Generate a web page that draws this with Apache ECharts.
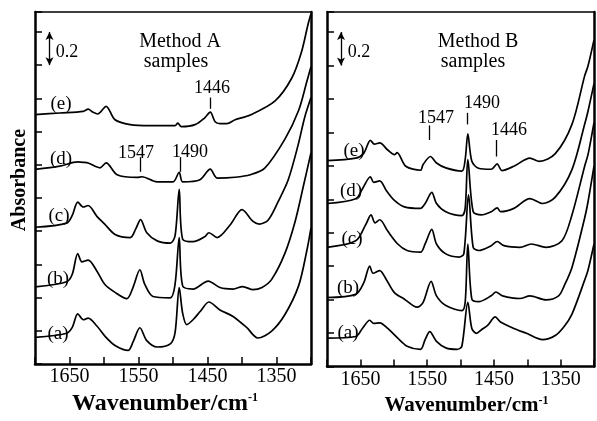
<!DOCTYPE html>
<html><head><meta charset="utf-8">
<script src="https://cdn.jsdelivr.net/npm/echarts@6/dist/echarts.min.js"></script>
<style>html,body{margin:0;padding:0;background:#fff}#c{width:597px;height:421px}</style>
</head><body><div id="c"></div>
<script>
// ---- data (wavenumber cm-1, absorbance offset) ----
const xTickLabels = [1650, 1550, 1450, 1350];
const curveNames = ['(a)', '(b)', '(c)', '(d)', '(e)'];
const peakLabels = [1547, 1490, 1446];
const scaleBar = 0.2;

const methodA_a = [[1700,0.161],[1654,0.186],[1646,0.221],[1638,0.302],[1630,0.267],[1623,0.277],[1610,0.228],[1599,0.170],[1584,0.112],[1565,0.083],[1558,0.132],[1548,0.219],[1538,0.141],[1523,0.103],[1504,0.122],[1497,0.190],[1491,0.461],[1486,0.306],[1480,0.238],[1471,0.267],[1460,0.320],[1448,0.374],[1432,0.326],[1413,0.287],[1393,0.219],[1377,0.157],[1357,0.199],[1338,0.297],[1318,0.471],[1306,0.684],[1300,0.820]];
const methodA_b = [[1700,0.465],[1654,0.496],[1646,0.541],[1638,0.665],[1632,0.616],[1623,0.626],[1610,0.558],[1599,0.481],[1584,0.432],[1567,0.394],[1558,0.461],[1548,0.568],[1541,0.481],[1529,0.407],[1504,0.399],[1497,0.481],[1491,0.762],[1486,0.471],[1471,0.452],[1449,0.500],[1432,0.461],[1413,0.452],[1399,0.467],[1384,0.448],[1371,0.461],[1357,0.510],[1338,0.665],[1323,0.859],[1311,1.072],[1300,1.273]];
const methodA_c = [[1700,0.824],[1654,0.849],[1646,0.895],[1638,0.975],[1630,0.946],[1623,0.955],[1610,0.888],[1599,0.843],[1584,0.781],[1562,0.762],[1554,0.814],[1547,0.870],[1538,0.791],[1523,0.742],[1504,0.728],[1497,0.773],[1491,1.052],[1486,0.752],[1471,0.737],[1454,0.767],[1448,0.791],[1436,0.762],[1417,0.839],[1400,0.930],[1384,0.859],[1375,0.843],[1362,0.868],[1348,0.975],[1333,1.110],[1319,1.314],[1309,1.488],[1300,1.605]];
const methodA_d = [[1700,1.173],[1664,1.192],[1638,1.217],[1630,1.215],[1623,1.211],[1606,1.182],[1597,1.211],[1581,1.140],[1552,1.124],[1545,1.128],[1523,1.097],[1500,1.097],[1491,1.155],[1486,1.097],[1461,1.110],[1446,1.174],[1436,1.120],[1410,1.125],[1388,1.140],[1367,1.180],[1338,1.353],[1318,1.527],[1306,1.702],[1300,1.791]];
const methodA_e = [[1700,1.502],[1664,1.512],[1630,1.522],[1623,1.535],[1616,1.517],[1609,1.506],[1597,1.552],[1584,1.471],[1562,1.442],[1533,1.436],[1497,1.436],[1493,1.451],[1488,1.430],[1468,1.442],[1454,1.483],[1446,1.517],[1439,1.459],[1432,1.448],[1422,1.448],[1410,1.471],[1388,1.500],[1352,1.585],[1328,1.721],[1314,1.876],[1304,2.051],[1300,2.110]];

const methodB_a = [[1700,0.170],[1657,0.180],[1647,0.228],[1636,0.277],[1630,0.258],[1621,0.262],[1609,0.228],[1594,0.170],[1580,0.122],[1560,0.103],[1553,0.161],[1546,0.209],[1536,0.151],[1522,0.112],[1505,0.103],[1498,0.122],[1489,0.384],[1483,0.228],[1476,0.199],[1469,0.219],[1459,0.248],[1448,0.297],[1440,0.267],[1420,0.228],[1401,0.199],[1377,0.161],[1358,0.186],[1345,0.238],[1333,0.314],[1314,0.517],[1309,0.576],[1300,0.733]];
const methodB_b = [[1700,0.413],[1657,0.432],[1645,0.500],[1636,0.601],[1631,0.558],[1621,0.574],[1611,0.519],[1599,0.442],[1584,0.403],[1565,0.355],[1556,0.384],[1544,0.510],[1536,0.423],[1522,0.365],[1498,0.335],[1493,0.384],[1489,0.733],[1483,0.403],[1473,0.388],[1454,0.423],[1447,0.446],[1437,0.423],[1411,0.407],[1396,0.423],[1372,0.399],[1353,0.423],[1345,0.480],[1333,0.593],[1314,0.888],[1309,0.984],[1300,1.198]];
const methodB_c = [[1700,0.713],[1657,0.752],[1642,0.849],[1634,0.907],[1628,0.859],[1621,0.878],[1609,0.810],[1594,0.733],[1580,0.694],[1560,0.684],[1553,0.733],[1543,0.820],[1536,0.733],[1522,0.674],[1502,0.655],[1495,0.674],[1488,1.027],[1481,0.713],[1473,0.694],[1454,0.723],[1445,0.748],[1435,0.723],[1411,0.713],[1394,0.733],[1372,0.713],[1348,0.752],[1333,0.907],[1314,1.198],[1309,1.267],[1300,1.459]];
const methodB_d = [[1700,0.975],[1657,1.004],[1647,1.062],[1635,1.135],[1630,1.101],[1621,1.110],[1611,1.052],[1599,0.994],[1584,0.955],[1560,0.946],[1553,0.975],[1543,1.042],[1536,0.975],[1522,0.926],[1498,0.903],[1493,0.946],[1489,1.238],[1481,0.926],[1469,0.907],[1454,0.926],[1445,0.949],[1440,0.926],[1420,0.946],[1396,1.004],[1377,0.975],[1358,1.013],[1333,1.178],[1314,1.449],[1309,1.527],[1300,1.692]];
const methodB_e = [[1700,1.231],[1657,1.246],[1645,1.275],[1635,1.353],[1629,1.330],[1621,1.337],[1609,1.295],[1599,1.267],[1595,1.279],[1582,1.198],[1560,1.174],[1556,1.208],[1545,1.256],[1536,1.217],[1522,1.188],[1498,1.169],[1493,1.238],[1489,1.391],[1483,1.227],[1473,1.186],[1454,1.180],[1445,1.212],[1438,1.172],[1420,1.198],[1396,1.246],[1382,1.227],[1358,1.273],[1333,1.448],[1314,1.738],[1309,1.797],[1300,1.953]];

// peak marker line spans [wavenumber, from, to]
const peakTicksA = [[1547,1.158,1.246],[1490,1.158,1.246],[1446,1.537,1.605]];
const peakTicksB = [[1547,1.355,1.442],[1490,1.448,1.517],[1446,1.256,1.355]];

// ---- chart ----
const FONT = 'Liberation Serif';
const chart = echarts.init(document.getElementById('c'), null, {renderer: 'canvas'});
const grids = [
  {left: 35, top: 12, width: 276, height: 364},
  {left: 327, top: 12, width: 276, height: 364}
];
const titleSize = [24, 21];
const titlePad = [[0, 16, 0, 0], [0, 0, 0, 12]];
const xAxes = [], yAxes = [];
[0, 1].forEach(g => {
  xAxes.push({
    type: 'value', gridIndex: g, min: 1300, max: 1700, interval: 50, inverse: true,
    axisLine: {onZero: false, lineStyle: {color: '#000', width: 2.5}},
    axisTick: {inside: true, length: 7, lineStyle: {color: '#000', width: 1.5}},
    axisLabel: {formatter: v => xTickLabels.includes(v) ? String(v) : '', color: '#000', fontFamily: FONT, fontSize: 20, margin: 3},
    splitLine: {show: false},
    name: 'Wavenumber/cm{sup|-1}', nameLocation: 'middle', nameGap: 22,
    nameTextStyle: {color: '#000', fontFamily: FONT, fontSize: titleSize[g], fontWeight: 'bold',
      padding: titlePad[g],
      rich: {sup: {fontFamily: FONT, fontSize: 12, fontWeight: 'bold', color: '#000', verticalAlign: 'top', padding: [0, 0, 10, 0]}}}
  });
  xAxes.push({
    type: 'value', gridIndex: g, position: 'top', min: 1300, max: 1700, inverse: true,
    axisLine: {onZero: false, lineStyle: {color: '#000', width: 1.5}},
    axisTick: {show: false}, axisLabel: {show: false}, splitLine: {show: false}
  });
  yAxes.push({
    type: 'value', gridIndex: g, min: 0, max: 2.12, interval: 0.2,
    axisLine: {show: true, onZero: false, lineStyle: {color: '#000', width: 2.5}},
    axisTick: {show: true, inside: true, length: 7, lineStyle: {color: '#000', width: 1.5}},
    axisLabel: {show: false}, splitLine: {show: false},
    name: g === 0 ? 'Absorbance' : '', nameLocation: 'middle', nameGap: 5, nameRotate: 90,
    nameTextStyle: {color: '#000', fontFamily: FONT, fontSize: 20, fontWeight: 'bold', padding: [0, 0, 0, 16]}
  });
  yAxes.push({
    type: 'value', gridIndex: g, position: 'right', min: 0, max: 2.12,
    axisLine: {show: true, onZero: false, lineStyle: {color: '#000', width: 2.5}},
    axisTick: {show: false}, axisLabel: {show: false}, splitLine: {show: false}
  });
});

function curve(data, g, extra) {
  return Object.assign({
    type: 'line', data: data, xAxisIndex: g * 2, yAxisIndex: g * 2,
    showSymbol: false, smooth: 0.3, silent: true,
    lineStyle: {color: '#000', width: 1.7}
  }, extra || {});
}
function peakMarks(ticks) {
  return {silent: true, symbol: ['none', 'none'], label: {show: false},
    lineStyle: {color: '#000', width: 1.3, type: 'solid'},
    data: ticks.map(t => [{coord: [t[0], t[1]]}, {coord: [t[0], t[2]]}])};
}
function barMark() {
  return {silent: true, symbol: ['arrow', 'arrow'], symbolSize: [6, 8], label: {show: false},
    lineStyle: {color: '#000', width: 1.3, type: 'solid'},
    data: [[{coord: [1679, 1.8]}, {coord: [1679, 1.8 + scaleBar]}]]};
}

const series = [
  curve(methodA_a, 0), curve(methodA_b, 0), curve(methodA_c, 0),
  curve(methodA_d, 0, {markLine: barMark()}), curve(methodA_e, 0, {markLine: peakMarks(peakTicksA)}),
  curve(methodB_a, 1), curve(methodB_b, 1), curve(methodB_c, 1),
  curve(methodB_d, 1, {markLine: barMark()}), curve(methodB_e, 1, {markLine: peakMarks(peakTicksB)})
];

function txt(s, x, y, size, weight) {
  return {type: 'text', x: x, y: y, silent: true,
    style: {text: s, fill: '#000', font: (weight || 'normal') + ' ' + size + 'px "' + FONT + '"',
      align: 'center', verticalAlign: 'middle', textAlign: 'center', textVerticalAlign: 'middle'}};
}
const labelPosA = [[58,334],[58,279],[59,216],[61,159],[61,104]];
const labelPosB = [[348,333],[348,288],[352,239],[351,191],[354,151]];
const graphics = [];
curveNames.forEach((n, i) => {
  graphics.push(txt(n, labelPosA[i][0], labelPosA[i][1], 19));
  graphics.push(txt(n, labelPosB[i][0], labelPosB[i][1], 19));
});
graphics.push(txt('Method A', 180, 42, 20), txt('samples', 176, 62, 20));
graphics.push(txt('Method B', 478, 42, 20), txt('samples', 473, 62, 20));
graphics.push(txt(scaleBar.toFixed(1), 67, 52, 18), txt(scaleBar.toFixed(1), 359, 52, 18));
graphics.push(txt(String(peakLabels[0]), 136, 153, 18), txt(String(peakLabels[1]), 190, 152, 18), txt(String(peakLabels[2]), 212, 88, 18));
graphics.push(txt(String(peakLabels[0]), 436, 118, 18), txt(String(peakLabels[1]), 482, 103, 18), txt(String(peakLabels[2]), 509, 130, 18));

chart.setOption({
  animation: false,
  backgroundColor: '#fff',
  grid: grids,
  xAxis: xAxes,
  yAxis: yAxes,
  series: series,
  graphic: graphics
});
</script></body></html>
